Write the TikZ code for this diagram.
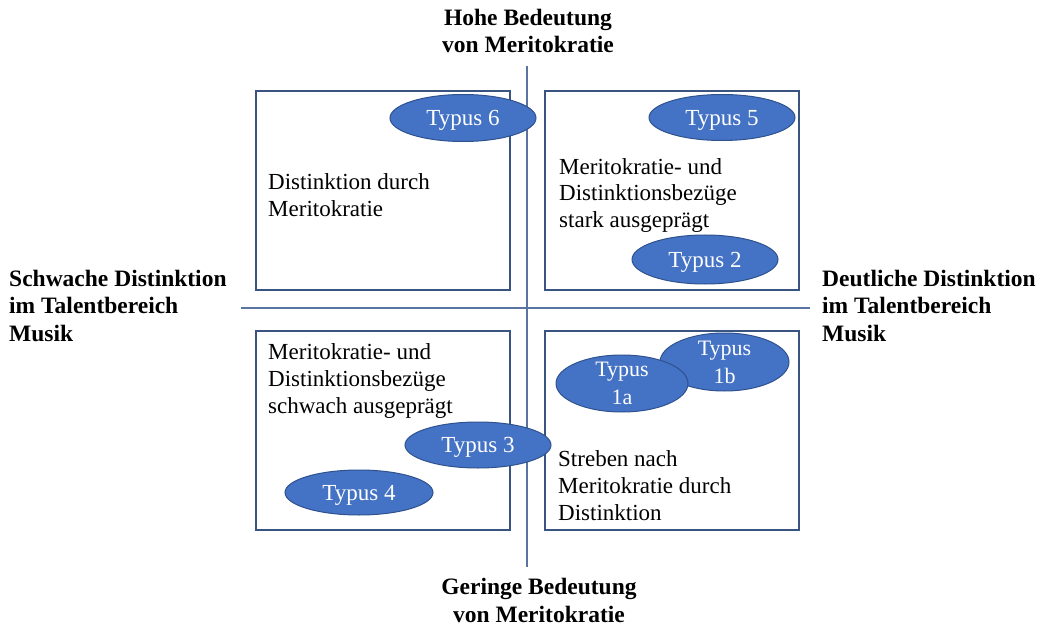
\documentclass[tikz,border=0pt]{standalone}
\usepackage{fontspec}
\setmainfont{Liberation Serif}
\usetikzlibrary{shapes.geometric}
\definecolor{boxc}{HTML}{3A5482}
\definecolor{axisc}{HTML}{5A74A2}
\definecolor{ellf}{HTML}{4472C4}
\definecolor{elld}{HTML}{2F528F}
\begin{document}
\begin{tikzpicture}[x=1pt,y=-1pt,
  quad/.style={draw=boxc,line width=2pt,fill=white},
  axisline/.style={draw=axisc,line width=1.6pt},
  typ/.style={ellipse,draw=elld,line width=1pt,fill=ellf,inner sep=0pt,text=white,
    font=\fontsize{23}{24}\selectfont,align=center},
  typone/.style={typ,text depth=0pt},
  body/.style={anchor=base west,inner sep=0pt,align=left,
    font=\fontsize{23}{27}\selectfont},
  head/.style={inner sep=0pt,font=\bfseries\fontsize{23.5}{27.5}\selectfont}]
\useasboundingbox (0,0) rectangle (1044,631);
% axes
\coordinate (vt) at (527,66);
\coordinate (vb) at (527,567);
\coordinate (hl) at (241,308);
\coordinate (hr) at (810,308);
\draw[axisline] (vt) -- (vb);
\draw[axisline] (hl) -- (hr);
% quadrant boxes
\node[quad,minimum width=254pt,minimum height=199pt,anchor=north west,inner sep=0pt] (tl) at (255,90) {};
\node[quad,minimum width=254pt,minimum height=199pt,anchor=north west,inner sep=0pt] (tr) at (544,90) {};
\node[quad,minimum width=254pt,minimum height=199pt,anchor=north west,inner sep=0pt] (bl) at (255,330) {};
\node[quad,minimum width=254pt,minimum height=199pt,anchor=north west,inner sep=0pt] (br) at (544,330) {};
% texts (base anchor = last line baseline)
\node[body] (ttl) at (268,217) {Distinktion durch\\Meritokratie};
\node[body] (ttr) at (559,228) {Meritokratie- und\\Distinktionsbezüge\\stark ausgeprägt};
\node[body] (tbl) at (268,413) {Meritokratie- und\\Distinktionsbezüge\\schwach ausgeprägt};
\node[body] (tbr) at (558,520) {Streben nach\\Meritokratie durch\\Distinktion};
% ellipses
\node[typone,minimum width=146pt,minimum height=47pt] (t6) at (463,118) {Typus 6};
\node[typone,minimum width=146pt,minimum height=46pt] (t5) at (722,117.5) {Typus 5};
\node[typone,minimum width=146pt,minimum height=49pt] (t2) at (705,259.5) {Typus 2};
\node[typone,minimum width=146pt,minimum height=46pt] (t3) at (478,445) {Typus 3};
\node[typone,minimum width=148pt,minimum height=45pt] (t4) at (359,492.5) {Typus 4};
\node[typ,minimum width=129pt,minimum height=58pt,
  label={[text=white,align=center,font=\fontsize{22}{28}\selectfont]center:Typus\\1b}] (t1b) at (724.5,362) {};
\node[typ,minimum width=132pt,minimum height=57pt,
  label={[text=white,align=center,font=\fontsize{22}{28}\selectfont]center:Typus\\1a}] (t1a) at (622,383.5) {};
% headings
\node[head,anchor=base,align=center] (top) at (528,53) {Hohe Bedeutung\\von Meritokratie};
\node[head,anchor=base,align=center] (bot) at (539,622) {Geringe Bedeutung\\von Meritokratie};
\node[head,anchor=base west,align=left] (lft) at (9,341) {Schwache Distinktion\\im Talentbereich\\Musik};
\node[head,anchor=base west,align=left] (rgt) at (822,341) {Deutliche Distinktion\\im Talentbereich\\Musik};
\end{tikzpicture}
\end{document}
